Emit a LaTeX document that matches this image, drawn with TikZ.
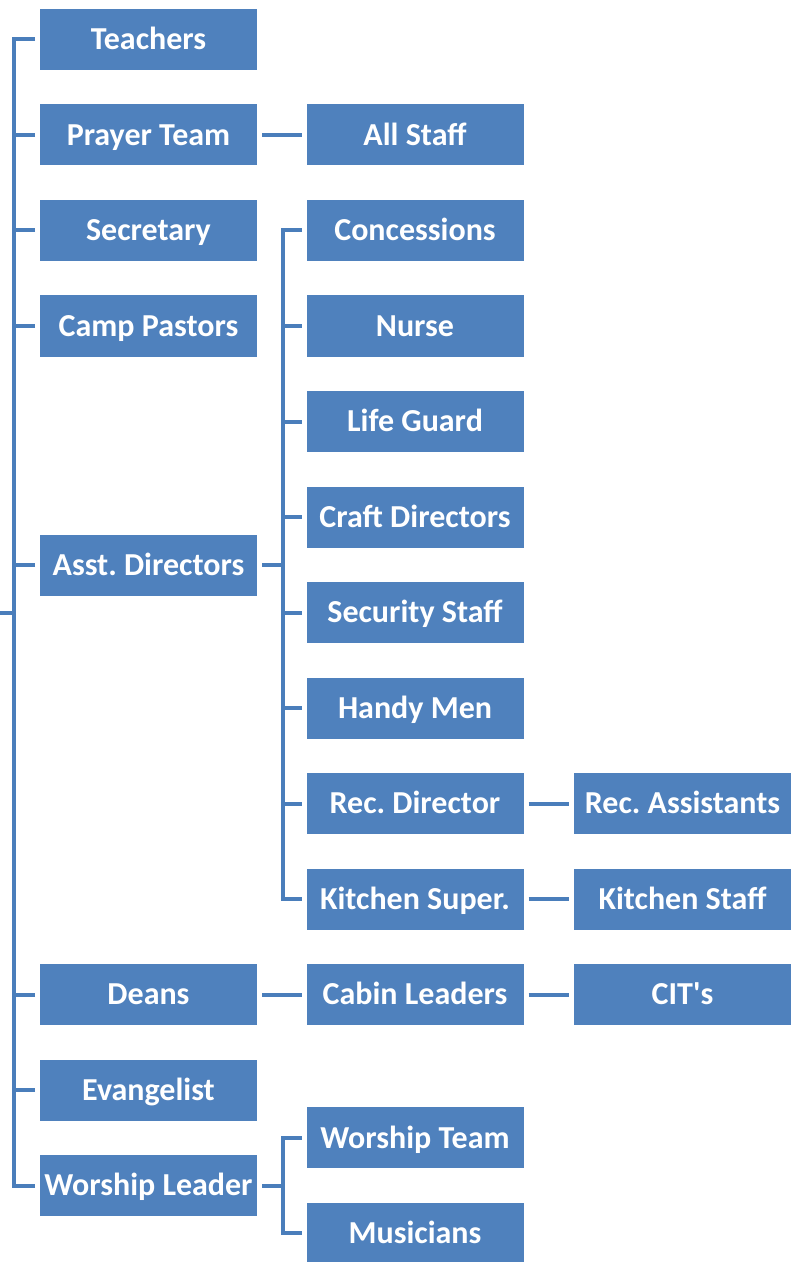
\documentclass[tikz,border=0pt]{standalone}
\usepackage{fontspec}
\setmainfont{Carlito}[Ligatures=TeXOff]
\usepackage{tikz}
\usetikzlibrary{positioning}
\usepackage{xcolor}
\definecolor{boxblue}{HTML}{4F81BD}
\definecolor{linkblue}{HTML}{4A7EBB}
\frenchspacing

\begin{document}
\begin{tikzpicture}[x=0.75pt, y=-0.75pt,
    box/.style={fill=boxblue, text=white, inner sep=0pt, minimum width=162.75pt,
      minimum height=45.75pt, text height=15.5pt, text depth=0pt, outer xsep=3.75pt,
      font=\bfseries\fontsize{24}{28}\selectfont},
    link/.style={draw=linkblue, line width=3pt}]
    \useasboundingbox (0,0) rectangle (794,1262);
    % first column
    \node[box] (teach) at (148.5,39.5) {Teachers};
    \node[box] (prayer) at (148.5,135) {Prayer Team};
    \node[box] (secr) at (148.5,230.5) {Secretary};
    \node[box] (pastor) at (148.5,326) {Camp Pastors};
    \node[box] (asst) at (148.5,565) {Asst. Directors};
    \node[box] (deans) at (148.5,994.5) {Deans};
    \node[box] (evang) at (148.5,1090) {Evangelist};
    \node[box] (wlead) at (148.5,1185.5) {Worship Leader};
    % second column
    \node[box] (allst) at (415,135) {All Staff};
    \node[box] (conc) at (415,230.5) {Concessions};
    \node[box] (nurse) at (415,326) {Nurse};
    \node[box] (guard) at (415,421.5) {Life Guard};
    \node[box] (craft) at (415,517) {Craft Directors};
    \node[box] (secur) at (415,612.5) {Security Staff};
    \node[box] (handy) at (415,708) {Handy Men};
    \node[box] (recdir) at (415,803.5) {Rec. Director};
    \node[box] (kitsup) at (415,899) {Kitchen Super.};
    \node[box] (cabin) at (415,994.5) {Cabin Leaders};
    \node[box] (wteam) at (415,1137.75) {Worship Team};
    \node[box] (music) at (415,1233.25) {Musicians};
    % third column
    \node[box] (recass) at (682.5,803.5) {Rec. Assistants};
    \node[box] (kitst) at (682.5,899) {Kitchen Staff};
    \node[box] (cits) at (682.5,994.5) {CIT's};

    % left bus
    \coordinate (root) at (0,612.5);
    \coordinate (lbus) at (14,612.5);
    \draw[link] (root) -- (lbus);
    \foreach \n in {teach,prayer,secr,pastor,asst,deans,evang,wlead}
      \draw[link] (\n.west) -| (lbus);

    % assistant directors bus
    \coordinate (abus) at (283,565);
    \draw[link] (asst.east) -- (abus);
    \foreach \n in {conc,nurse,guard,craft,secur,handy,recdir,kitsup}
      \draw[link] (\n.west) -| (abus);

    % worship bus
    \coordinate (wbus) at (283,1185.5);
    \draw[link] (wlead.east) -- (wbus);
    \foreach \n in {wteam,music}
      \draw[link] (\n.west) -| (wbus);

    % single links
    \draw[link] (prayer.east) -- (allst.west);
    \draw[link] (deans.east) -- (cabin.west);
    \draw[link] (recdir.east) -- (recass.west);
    \draw[link] (kitsup.east) -- (kitst.west);
    \draw[link] (cabin.east) -- (cits.west);
  \end{tikzpicture}
\end{document}
